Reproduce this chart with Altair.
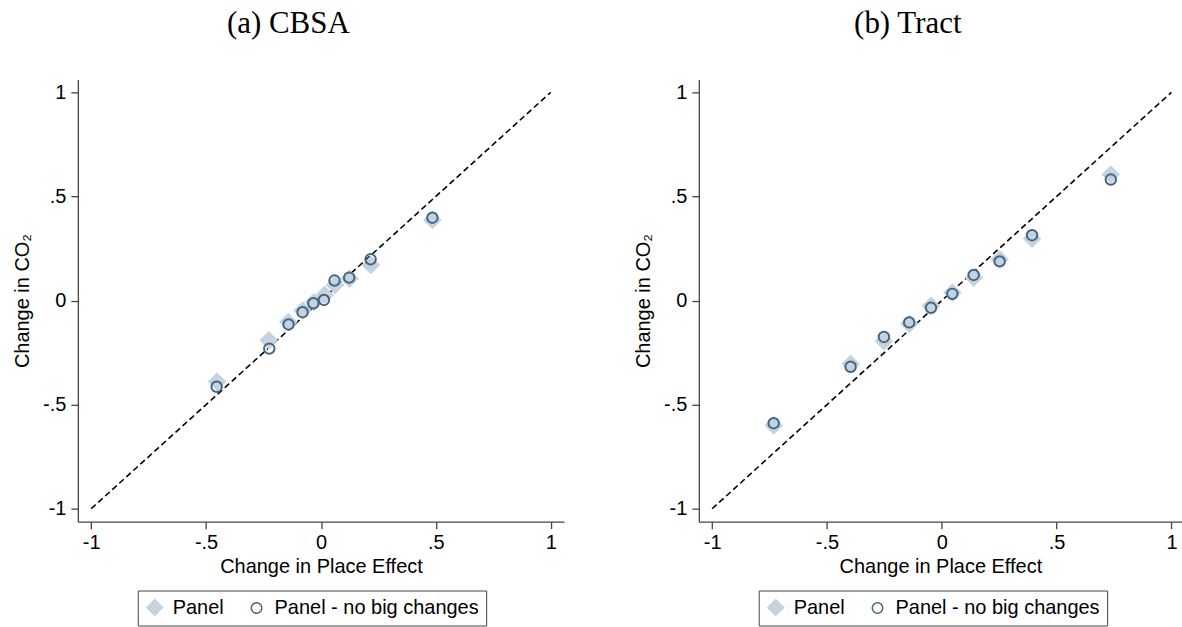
import altair as alt
import pandas as pd

# ---- data ----
series_names = ["Panel", "Panel - no big changes"]

cbsa_x_diamond = [-0.452, -0.227, -0.142, -0.080, -0.031, 0.016, 0.061, 0.124, 0.217, 0.485]
cbsa_y_diamond = [-0.390, -0.191, -0.103, -0.048, -0.008, 0.027, 0.075, 0.105, 0.171, 0.387]
cbsa_x_circle = [-0.454, -0.225, -0.141, -0.080, -0.033, 0.013, 0.059, 0.123, 0.216, 0.485]
cbsa_y_circle = [-0.414, -0.231, -0.115, -0.056, -0.013, 0.003, 0.096, 0.110, 0.198, 0.398]

tract_x_diamond = [-0.732, -0.397, -0.252, -0.142, -0.047, 0.046, 0.139, 0.252, 0.393, 0.736]
tract_y_diamond = [-0.600, -0.305, -0.195, -0.112, -0.025, 0.038, 0.110, 0.198, 0.297, 0.605]
tract_x_circle = [-0.732, -0.397, -0.252, -0.142, -0.047, 0.046, 0.139, 0.252, 0.393, 0.736]
tract_y_circle = [-0.589, -0.318, -0.175, -0.105, -0.035, 0.032, 0.123, 0.188, 0.314, 0.581]

line_x = [-1, 1]
line_y = [-1, 1]

tick_values = [-1, -0.5, 0, 0.5, 1]
tick_labels = ["-1", "-.5", "0", ".5", "1"]

panel_titles = ["(a) CBSA", "(b) Tract"]

DIAMOND = "#c6d2de"
CIRCLE = "#3f6787"
FONT = "Liberation Sans"

label_expr = ""
for v, l in zip(tick_values, tick_labels):
    label_expr += f"datum.value == {v} ? '{l}' : "
label_expr += "datum.label"


def panel(xd, yd, xc, yc, title, width, xmax):
    df = pd.concat([
        pd.DataFrame({"x": xd, "y": yd, "series": series_names[0]}),
        pd.DataFrame({"x": xc, "y": yc, "series": series_names[1]}),
    ], ignore_index=True)
    df_line = pd.DataFrame({"x": line_x, "y": line_y})

    xs = alt.Scale(domain=[-1.058, xmax], nice=False, zero=False)
    ys = alt.Scale(domain=[-1.062, 1.062], nice=False, zero=False)
    xax = alt.Axis(values=tick_values, labelExpr=label_expr, title="Change in Place Effect",
                   grid=False, tickSize=7, labelPadding=4, titlePadding=4)
    yax = alt.Axis(values=tick_values, labelExpr=label_expr, title="Change in CO₂",
                   grid=False, tickSize=7, labelPadding=5, titlePadding=10)

    line = alt.Chart(df_line).mark_line(color="black", strokeDash=[6, 3.5], strokeWidth=1.6).encode(
        x=alt.X("x:Q", scale=xs, axis=xax),
        y=alt.Y("y:Q", scale=ys, axis=yax),
    )
    pts = alt.Chart(df).mark_point(opacity=1, strokeWidth=2).encode(
        x=alt.X("x:Q", scale=xs, axis=xax),
        y=alt.Y("y:Q", scale=ys, axis=yax),
        shape=alt.Shape("series:N", scale=alt.Scale(domain=series_names, range=["diamond", "circle"]),
                        legend=alt.Legend(title=None, orient="none", legendX=60, legendY=512,
                                          direction="horizontal", columns=2, labelLimit=400)),
        fill=alt.Fill("series:N", scale=alt.Scale(domain=series_names, range=[DIAMOND, "transparent"])),
        stroke=alt.Stroke("series:N", scale=alt.Scale(domain=series_names, range=[DIAMOND, CIRCLE])),
        size=alt.Size("series:N", scale=alt.Scale(domain=series_names, range=[250, 110])),
    )
    return alt.layer(line, pts).properties(
        width=width, height=443,
        title=alt.TitleParams(title, font="Liberation Serif", fontSize=31, fontWeight="normal",
                              anchor="middle", frame="bounds", baseline="alphabetic", offset=15,
                              color="black"),
    )


left = panel(cbsa_x_diamond, cbsa_y_diamond, cbsa_x_circle, cbsa_y_circle, panel_titles[0], 487, 1.058)
right = panel(tract_x_diamond, tract_y_diamond, tract_x_circle, tract_y_circle, panel_titles[1], 484, 1.046)

chart = alt.hconcat(left, right, spacing=69).resolve_scale(
    x="independent", y="independent", shape="independent", fill="independent",
    stroke="independent", size="independent",
).properties(
    padding={"left": 12, "top": 8, "right": 0, "bottom": 0},
    background="white",
).configure_view(stroke=None).configure_axis(
    labelFont=FONT, titleFont=FONT, labelFontSize=20, titleFontSize=20,
    titleFontWeight="normal", labelColor="black", titleColor="black",
    domainColor="#444", tickColor="#444", domainWidth=1.3, tickWidth=1.3,
).configure_legend(
    labelFont=FONT, labelFontSize=20, labelColor="black", strokeColor="#444",
    fillColor="white", padding=7, columnPadding=22, labelOffset=8, symbolStrokeWidth=1.5,
)

chart.save("out.html", embed_options={"renderer": "svg", "actions": False})
